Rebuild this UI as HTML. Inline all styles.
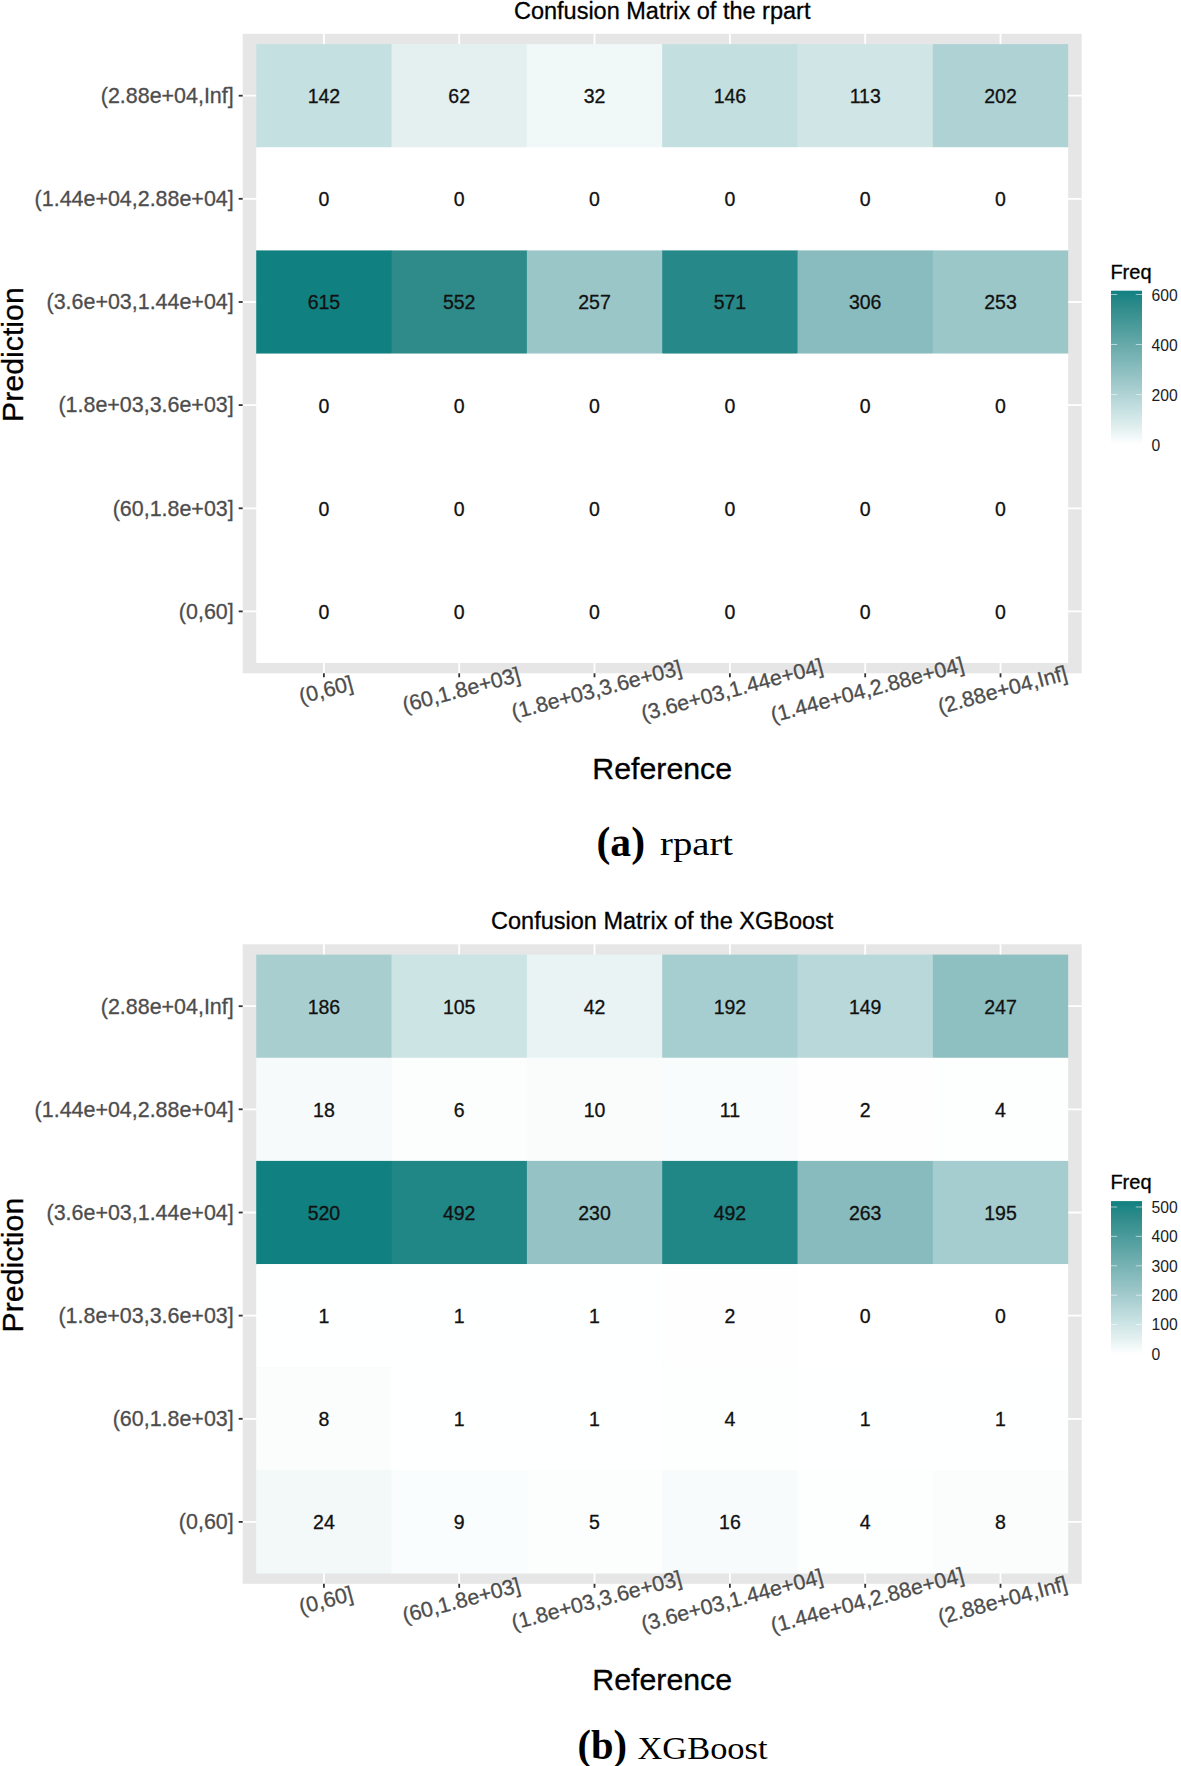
<!DOCTYPE html>
<html><head><meta charset="utf-8"><title>Confusion matrices</title>
<style>html,body{margin:0;padding:0;background:#fff}svg{display:block}text{font-family:"Liberation Sans",sans-serif;stroke-width:.3px}text[fill="#000"]{stroke:#000}text[fill="#111"]{stroke:#111}text[fill="#4d4d4d"]{stroke:#4d4d4d}text.cap{stroke:none}text.cap{font-family:"Liberation Serif",serif}</style>
</head><body>
<svg width="1181" height="1766" viewBox="0 0 1181 1766">
<rect width="1181" height="1766" fill="#fff"/>
<text x="662.2" y="18.9" text-anchor="middle" font-size="23.5" fill="#000">Confusion Matrix of the rpart</text>
<rect x="242.7" y="33.8" width="839.0" height="639.5" fill="#e6e6e6"/>
<line x1="323.9" x2="323.9" y1="33.8" y2="673.3" stroke="#fff" stroke-width="1.8"/>
<line y1="95.7" y2="95.7" x1="242.7" x2="1081.7" stroke="#fff" stroke-width="1.8"/>
<line x1="459.2" x2="459.2" y1="33.8" y2="673.3" stroke="#fff" stroke-width="1.8"/>
<line y1="198.8" y2="198.8" x1="242.7" x2="1081.7" stroke="#fff" stroke-width="1.8"/>
<line x1="594.5" x2="594.5" y1="33.8" y2="673.3" stroke="#fff" stroke-width="1.8"/>
<line y1="302.0" y2="302.0" x1="242.7" x2="1081.7" stroke="#fff" stroke-width="1.8"/>
<line x1="729.9" x2="729.9" y1="33.8" y2="673.3" stroke="#fff" stroke-width="1.8"/>
<line y1="405.1" y2="405.1" x1="242.7" x2="1081.7" stroke="#fff" stroke-width="1.8"/>
<line x1="865.2" x2="865.2" y1="33.8" y2="673.3" stroke="#fff" stroke-width="1.8"/>
<line y1="508.3" y2="508.3" x1="242.7" x2="1081.7" stroke="#fff" stroke-width="1.8"/>
<line x1="1000.5" x2="1000.5" y1="33.8" y2="673.3" stroke="#fff" stroke-width="1.8"/>
<line y1="611.4" y2="611.4" x1="242.7" x2="1081.7" stroke="#fff" stroke-width="1.8"/>
<rect x="256.23" y="44.11" width="135.92" height="103.75" fill="#c5e0e1"/>
<rect x="391.55" y="44.11" width="135.92" height="103.75" fill="#e4f0f0"/>
<rect x="526.88" y="44.11" width="135.92" height="103.75" fill="#f1f8f8"/>
<rect x="662.20" y="44.11" width="135.92" height="103.75" fill="#c4dfe0"/>
<rect x="797.52" y="44.11" width="135.92" height="103.75" fill="#d0e6e6"/>
<rect x="932.85" y="44.11" width="135.32" height="103.75" fill="#afd2d4"/>
<rect x="256.23" y="147.26" width="135.92" height="103.75" fill="#ffffff"/>
<rect x="391.55" y="147.26" width="135.92" height="103.75" fill="#ffffff"/>
<rect x="526.88" y="147.26" width="135.92" height="103.75" fill="#ffffff"/>
<rect x="662.20" y="147.26" width="135.92" height="103.75" fill="#ffffff"/>
<rect x="797.52" y="147.26" width="135.92" height="103.75" fill="#ffffff"/>
<rect x="932.85" y="147.26" width="135.32" height="103.75" fill="#ffffff"/>
<rect x="256.23" y="250.40" width="135.92" height="103.75" fill="#118081"/>
<rect x="391.55" y="250.40" width="135.92" height="103.75" fill="#2e8b8a"/>
<rect x="526.88" y="250.40" width="135.92" height="103.75" fill="#9bc6c8"/>
<rect x="662.20" y="250.40" width="135.92" height="103.75" fill="#268888"/>
<rect x="797.52" y="250.40" width="135.92" height="103.75" fill="#89bcbe"/>
<rect x="932.85" y="250.40" width="135.32" height="103.75" fill="#9cc7c9"/>
<rect x="256.23" y="353.55" width="135.92" height="103.75" fill="#ffffff"/>
<rect x="391.55" y="353.55" width="135.92" height="103.75" fill="#ffffff"/>
<rect x="526.88" y="353.55" width="135.92" height="103.75" fill="#ffffff"/>
<rect x="662.20" y="353.55" width="135.92" height="103.75" fill="#ffffff"/>
<rect x="797.52" y="353.55" width="135.92" height="103.75" fill="#ffffff"/>
<rect x="932.85" y="353.55" width="135.32" height="103.75" fill="#ffffff"/>
<rect x="256.23" y="456.70" width="135.92" height="103.75" fill="#ffffff"/>
<rect x="391.55" y="456.70" width="135.92" height="103.75" fill="#ffffff"/>
<rect x="526.88" y="456.70" width="135.92" height="103.75" fill="#ffffff"/>
<rect x="662.20" y="456.70" width="135.92" height="103.75" fill="#ffffff"/>
<rect x="797.52" y="456.70" width="135.92" height="103.75" fill="#ffffff"/>
<rect x="932.85" y="456.70" width="135.32" height="103.75" fill="#ffffff"/>
<rect x="256.23" y="559.84" width="135.92" height="103.15" fill="#ffffff"/>
<rect x="391.55" y="559.84" width="135.92" height="103.15" fill="#ffffff"/>
<rect x="526.88" y="559.84" width="135.92" height="103.15" fill="#ffffff"/>
<rect x="662.20" y="559.84" width="135.92" height="103.15" fill="#ffffff"/>
<rect x="797.52" y="559.84" width="135.92" height="103.15" fill="#ffffff"/>
<rect x="932.85" y="559.84" width="135.32" height="103.15" fill="#ffffff"/>
<text x="323.9" y="103.1" text-anchor="middle" font-size="19.5" fill="#111">142</text>
<text x="459.2" y="103.1" text-anchor="middle" font-size="19.5" fill="#111">62</text>
<text x="594.5" y="103.1" text-anchor="middle" font-size="19.5" fill="#111">32</text>
<text x="729.9" y="103.1" text-anchor="middle" font-size="19.5" fill="#111">146</text>
<text x="865.2" y="103.1" text-anchor="middle" font-size="19.5" fill="#111">113</text>
<text x="1000.5" y="103.1" text-anchor="middle" font-size="19.5" fill="#111">202</text>
<text x="323.9" y="206.2" text-anchor="middle" font-size="19.5" fill="#111">0</text>
<text x="459.2" y="206.2" text-anchor="middle" font-size="19.5" fill="#111">0</text>
<text x="594.5" y="206.2" text-anchor="middle" font-size="19.5" fill="#111">0</text>
<text x="729.9" y="206.2" text-anchor="middle" font-size="19.5" fill="#111">0</text>
<text x="865.2" y="206.2" text-anchor="middle" font-size="19.5" fill="#111">0</text>
<text x="1000.5" y="206.2" text-anchor="middle" font-size="19.5" fill="#111">0</text>
<text x="323.9" y="309.4" text-anchor="middle" font-size="19.5" fill="#111">615</text>
<text x="459.2" y="309.4" text-anchor="middle" font-size="19.5" fill="#111">552</text>
<text x="594.5" y="309.4" text-anchor="middle" font-size="19.5" fill="#111">257</text>
<text x="729.9" y="309.4" text-anchor="middle" font-size="19.5" fill="#111">571</text>
<text x="865.2" y="309.4" text-anchor="middle" font-size="19.5" fill="#111">306</text>
<text x="1000.5" y="309.4" text-anchor="middle" font-size="19.5" fill="#111">253</text>
<text x="323.9" y="412.5" text-anchor="middle" font-size="19.5" fill="#111">0</text>
<text x="459.2" y="412.5" text-anchor="middle" font-size="19.5" fill="#111">0</text>
<text x="594.5" y="412.5" text-anchor="middle" font-size="19.5" fill="#111">0</text>
<text x="729.9" y="412.5" text-anchor="middle" font-size="19.5" fill="#111">0</text>
<text x="865.2" y="412.5" text-anchor="middle" font-size="19.5" fill="#111">0</text>
<text x="1000.5" y="412.5" text-anchor="middle" font-size="19.5" fill="#111">0</text>
<text x="323.9" y="515.7" text-anchor="middle" font-size="19.5" fill="#111">0</text>
<text x="459.2" y="515.7" text-anchor="middle" font-size="19.5" fill="#111">0</text>
<text x="594.5" y="515.7" text-anchor="middle" font-size="19.5" fill="#111">0</text>
<text x="729.9" y="515.7" text-anchor="middle" font-size="19.5" fill="#111">0</text>
<text x="865.2" y="515.7" text-anchor="middle" font-size="19.5" fill="#111">0</text>
<text x="1000.5" y="515.7" text-anchor="middle" font-size="19.5" fill="#111">0</text>
<text x="323.9" y="618.8" text-anchor="middle" font-size="19.5" fill="#111">0</text>
<text x="459.2" y="618.8" text-anchor="middle" font-size="19.5" fill="#111">0</text>
<text x="594.5" y="618.8" text-anchor="middle" font-size="19.5" fill="#111">0</text>
<text x="729.9" y="618.8" text-anchor="middle" font-size="19.5" fill="#111">0</text>
<text x="865.2" y="618.8" text-anchor="middle" font-size="19.5" fill="#111">0</text>
<text x="1000.5" y="618.8" text-anchor="middle" font-size="19.5" fill="#111">0</text>
<line x1="238.7" x2="242.7" y1="95.7" y2="95.7" stroke="#333" stroke-width="1.8"/>
<text x="233.7" y="103.0" text-anchor="end" font-size="21.45" fill="#4d4d4d">(2.88e+04,Inf]</text>
<line x1="238.7" x2="242.7" y1="198.8" y2="198.8" stroke="#333" stroke-width="1.8"/>
<text x="233.7" y="206.1" text-anchor="end" font-size="21.45" fill="#4d4d4d">(1.44e+04,2.88e+04]</text>
<line x1="238.7" x2="242.7" y1="302.0" y2="302.0" stroke="#333" stroke-width="1.8"/>
<text x="233.7" y="309.3" text-anchor="end" font-size="21.45" fill="#4d4d4d">(3.6e+03,1.44e+04]</text>
<line x1="238.7" x2="242.7" y1="405.1" y2="405.1" stroke="#333" stroke-width="1.8"/>
<text x="233.7" y="412.4" text-anchor="end" font-size="21.45" fill="#4d4d4d">(1.8e+03,3.6e+03]</text>
<line x1="238.7" x2="242.7" y1="508.3" y2="508.3" stroke="#333" stroke-width="1.8"/>
<text x="233.7" y="515.6" text-anchor="end" font-size="21.45" fill="#4d4d4d">(60,1.8e+03]</text>
<line x1="238.7" x2="242.7" y1="611.4" y2="611.4" stroke="#333" stroke-width="1.8"/>
<text x="233.7" y="618.7" text-anchor="end" font-size="21.45" fill="#4d4d4d">(0,60]</text>
<line y1="673.3" y2="677.3" x1="323.9" x2="323.9" stroke="#333" stroke-width="1.8"/>
<text transform="translate(323.9,682.3) rotate(-15)" x="0" y="15" text-anchor="middle" font-size="21.45" fill="#4d4d4d">(0,60]</text>
<line y1="673.3" y2="677.3" x1="459.2" x2="459.2" stroke="#333" stroke-width="1.8"/>
<text transform="translate(459.2,682.3) rotate(-15)" x="0" y="15" text-anchor="middle" font-size="21.45" fill="#4d4d4d">(60,1.8e+03]</text>
<line y1="673.3" y2="677.3" x1="594.5" x2="594.5" stroke="#333" stroke-width="1.8"/>
<text transform="translate(594.5,682.3) rotate(-15)" x="0" y="15" text-anchor="middle" font-size="21.45" fill="#4d4d4d">(1.8e+03,3.6e+03]</text>
<line y1="673.3" y2="677.3" x1="729.9" x2="729.9" stroke="#333" stroke-width="1.8"/>
<text transform="translate(729.9,682.3) rotate(-15)" x="0" y="15" text-anchor="middle" font-size="21.45" fill="#4d4d4d">(3.6e+03,1.44e+04]</text>
<line y1="673.3" y2="677.3" x1="865.2" x2="865.2" stroke="#333" stroke-width="1.8"/>
<text transform="translate(865.2,682.3) rotate(-15)" x="0" y="15" text-anchor="middle" font-size="21.45" fill="#4d4d4d">(1.44e+04,2.88e+04]</text>
<line y1="673.3" y2="677.3" x1="1000.5" x2="1000.5" stroke="#333" stroke-width="1.8"/>
<text transform="translate(1000.5,682.3) rotate(-15)" x="0" y="15" text-anchor="middle" font-size="21.45" fill="#4d4d4d">(2.88e+04,Inf]</text>
<text x="662.2" y="779.3" text-anchor="middle" font-size="30.3" fill="#000">Reference</text>
<text transform="translate(23.0,354.6) rotate(-90)" text-anchor="middle" font-size="30.3" fill="#000">Prediction</text>
<defs><linearGradient id="g0" x1="0" y1="0" x2="0" y2="1"><stop offset="0.0000" stop-color="#118081"/><stop offset="0.0715" stop-color="#268888"/><stop offset="0.1024" stop-color="#2e8b8a"/><stop offset="0.5821" stop-color="#9bc6c8"/><stop offset="0.7691" stop-color="#c5e0e1"/><stop offset="0.8992" stop-color="#e4f0f0"/><stop offset="0.9480" stop-color="#f1f8f8"/><stop offset="1.0000" stop-color="#ffffff"/></linearGradient></defs>
<rect x="1111.0" y="290.7" width="31.0" height="153.9" fill="url(#g0)"/>
<text x="1110.4" y="278.5" font-size="20" fill="#000">Freq</text>
<line x1="1111.0" x2="1117.2" y1="444.6" y2="444.6" stroke="#fff" stroke-opacity="0.7" stroke-width="0.8"/>
<line x1="1135.8" x2="1142.0" y1="444.6" y2="444.6" stroke="#fff" stroke-opacity="0.7" stroke-width="0.8"/>
<text x="1151.6" y="451.1" font-size="15.7" fill="#1c1c1c">0</text>
<line x1="1111.0" x2="1117.2" y1="394.6" y2="394.6" stroke="#fff" stroke-opacity="0.7" stroke-width="0.8"/>
<line x1="1135.8" x2="1142.0" y1="394.6" y2="394.6" stroke="#fff" stroke-opacity="0.7" stroke-width="0.8"/>
<text x="1151.6" y="401.1" font-size="15.7" fill="#1c1c1c">200</text>
<line x1="1111.0" x2="1117.2" y1="344.5" y2="344.5" stroke="#fff" stroke-opacity="0.7" stroke-width="0.8"/>
<line x1="1135.8" x2="1142.0" y1="344.5" y2="344.5" stroke="#fff" stroke-opacity="0.7" stroke-width="0.8"/>
<text x="1151.6" y="351.0" font-size="15.7" fill="#1c1c1c">400</text>
<line x1="1111.0" x2="1117.2" y1="294.5" y2="294.5" stroke="#fff" stroke-opacity="0.7" stroke-width="0.8"/>
<line x1="1135.8" x2="1142.0" y1="294.5" y2="294.5" stroke="#fff" stroke-opacity="0.7" stroke-width="0.8"/>
<text x="1151.6" y="301.0" font-size="15.7" fill="#1c1c1c">600</text>
<text x="596.5" y="856.2" class="cap" font-size="42" fill="#000" textLength="48.5" lengthAdjust="spacingAndGlyphs" font-weight="bold">(a)</text>
<text x="660" y="855.2" class="cap" font-size="33" fill="#000" textLength="73" lengthAdjust="spacingAndGlyphs">rpart</text>
<text x="662.2" y="929.4" text-anchor="middle" font-size="23.5" fill="#000">Confusion Matrix of the XGBoost</text>
<rect x="242.7" y="944.3" width="839.0" height="639.5" fill="#e6e6e6"/>
<line x1="323.9" x2="323.9" y1="944.3" y2="1583.8" stroke="#fff" stroke-width="1.8"/>
<line y1="1006.2" y2="1006.2" x1="242.7" x2="1081.7" stroke="#fff" stroke-width="1.8"/>
<line x1="459.2" x2="459.2" y1="944.3" y2="1583.8" stroke="#fff" stroke-width="1.8"/>
<line y1="1109.3" y2="1109.3" x1="242.7" x2="1081.7" stroke="#fff" stroke-width="1.8"/>
<line x1="594.5" x2="594.5" y1="944.3" y2="1583.8" stroke="#fff" stroke-width="1.8"/>
<line y1="1212.5" y2="1212.5" x1="242.7" x2="1081.7" stroke="#fff" stroke-width="1.8"/>
<line x1="729.9" x2="729.9" y1="944.3" y2="1583.8" stroke="#fff" stroke-width="1.8"/>
<line y1="1315.6" y2="1315.6" x1="242.7" x2="1081.7" stroke="#fff" stroke-width="1.8"/>
<line x1="865.2" x2="865.2" y1="944.3" y2="1583.8" stroke="#fff" stroke-width="1.8"/>
<line y1="1418.8" y2="1418.8" x1="242.7" x2="1081.7" stroke="#fff" stroke-width="1.8"/>
<line x1="1000.5" x2="1000.5" y1="944.3" y2="1583.8" stroke="#fff" stroke-width="1.8"/>
<line y1="1521.9" y2="1521.9" x1="242.7" x2="1081.7" stroke="#fff" stroke-width="1.8"/>
<rect x="256.23" y="954.61" width="135.92" height="103.75" fill="#a9ced0"/>
<rect x="391.55" y="954.61" width="135.92" height="103.75" fill="#cce4e4"/>
<rect x="526.88" y="954.61" width="135.92" height="103.75" fill="#e9f3f3"/>
<rect x="662.20" y="954.61" width="135.92" height="103.75" fill="#a6cdcf"/>
<rect x="797.52" y="954.61" width="135.92" height="103.75" fill="#b9d8da"/>
<rect x="932.85" y="954.61" width="135.32" height="103.75" fill="#8ebfc1"/>
<rect x="256.23" y="1057.76" width="135.92" height="103.75" fill="#f6fafa"/>
<rect x="391.55" y="1057.76" width="135.92" height="103.75" fill="#fcfdfd"/>
<rect x="526.88" y="1057.76" width="135.92" height="103.75" fill="#fafcfc"/>
<rect x="662.20" y="1057.76" width="135.92" height="103.75" fill="#f9fcfc"/>
<rect x="797.52" y="1057.76" width="135.92" height="103.75" fill="#fefefe"/>
<rect x="932.85" y="1057.76" width="135.32" height="103.75" fill="#fdfefe"/>
<rect x="256.23" y="1160.90" width="135.92" height="103.75" fill="#118081"/>
<rect x="391.55" y="1160.90" width="135.92" height="103.75" fill="#218686"/>
<rect x="526.88" y="1160.90" width="135.92" height="103.75" fill="#95c3c5"/>
<rect x="662.20" y="1160.90" width="135.92" height="103.75" fill="#218686"/>
<rect x="797.52" y="1160.90" width="135.92" height="103.75" fill="#87bbbd"/>
<rect x="932.85" y="1160.90" width="135.32" height="103.75" fill="#a5ccce"/>
<rect x="256.23" y="1264.05" width="135.92" height="103.75" fill="#feffff"/>
<rect x="391.55" y="1264.05" width="135.92" height="103.75" fill="#feffff"/>
<rect x="526.88" y="1264.05" width="135.92" height="103.75" fill="#feffff"/>
<rect x="662.20" y="1264.05" width="135.92" height="103.75" fill="#fefefe"/>
<rect x="797.52" y="1264.05" width="135.92" height="103.75" fill="#ffffff"/>
<rect x="932.85" y="1264.05" width="135.32" height="103.75" fill="#ffffff"/>
<rect x="256.23" y="1367.20" width="135.92" height="103.75" fill="#fbfdfd"/>
<rect x="391.55" y="1367.20" width="135.92" height="103.75" fill="#feffff"/>
<rect x="526.88" y="1367.20" width="135.92" height="103.75" fill="#feffff"/>
<rect x="662.20" y="1367.20" width="135.92" height="103.75" fill="#fdfefe"/>
<rect x="797.52" y="1367.20" width="135.92" height="103.75" fill="#feffff"/>
<rect x="932.85" y="1367.20" width="135.32" height="103.75" fill="#feffff"/>
<rect x="256.23" y="1470.34" width="135.92" height="103.15" fill="#f3f9f9"/>
<rect x="391.55" y="1470.34" width="135.92" height="103.15" fill="#fafdfd"/>
<rect x="526.88" y="1470.34" width="135.92" height="103.15" fill="#fcfefe"/>
<rect x="662.20" y="1470.34" width="135.92" height="103.15" fill="#f7fbfb"/>
<rect x="797.52" y="1470.34" width="135.92" height="103.15" fill="#fdfefe"/>
<rect x="932.85" y="1470.34" width="135.32" height="103.15" fill="#fbfdfd"/>
<text x="323.9" y="1013.6" text-anchor="middle" font-size="19.5" fill="#111">186</text>
<text x="459.2" y="1013.6" text-anchor="middle" font-size="19.5" fill="#111">105</text>
<text x="594.5" y="1013.6" text-anchor="middle" font-size="19.5" fill="#111">42</text>
<text x="729.9" y="1013.6" text-anchor="middle" font-size="19.5" fill="#111">192</text>
<text x="865.2" y="1013.6" text-anchor="middle" font-size="19.5" fill="#111">149</text>
<text x="1000.5" y="1013.6" text-anchor="middle" font-size="19.5" fill="#111">247</text>
<text x="323.9" y="1116.7" text-anchor="middle" font-size="19.5" fill="#111">18</text>
<text x="459.2" y="1116.7" text-anchor="middle" font-size="19.5" fill="#111">6</text>
<text x="594.5" y="1116.7" text-anchor="middle" font-size="19.5" fill="#111">10</text>
<text x="729.9" y="1116.7" text-anchor="middle" font-size="19.5" fill="#111">11</text>
<text x="865.2" y="1116.7" text-anchor="middle" font-size="19.5" fill="#111">2</text>
<text x="1000.5" y="1116.7" text-anchor="middle" font-size="19.5" fill="#111">4</text>
<text x="323.9" y="1219.9" text-anchor="middle" font-size="19.5" fill="#111">520</text>
<text x="459.2" y="1219.9" text-anchor="middle" font-size="19.5" fill="#111">492</text>
<text x="594.5" y="1219.9" text-anchor="middle" font-size="19.5" fill="#111">230</text>
<text x="729.9" y="1219.9" text-anchor="middle" font-size="19.5" fill="#111">492</text>
<text x="865.2" y="1219.9" text-anchor="middle" font-size="19.5" fill="#111">263</text>
<text x="1000.5" y="1219.9" text-anchor="middle" font-size="19.5" fill="#111">195</text>
<text x="323.9" y="1323.0" text-anchor="middle" font-size="19.5" fill="#111">1</text>
<text x="459.2" y="1323.0" text-anchor="middle" font-size="19.5" fill="#111">1</text>
<text x="594.5" y="1323.0" text-anchor="middle" font-size="19.5" fill="#111">1</text>
<text x="729.9" y="1323.0" text-anchor="middle" font-size="19.5" fill="#111">2</text>
<text x="865.2" y="1323.0" text-anchor="middle" font-size="19.5" fill="#111">0</text>
<text x="1000.5" y="1323.0" text-anchor="middle" font-size="19.5" fill="#111">0</text>
<text x="323.9" y="1426.2" text-anchor="middle" font-size="19.5" fill="#111">8</text>
<text x="459.2" y="1426.2" text-anchor="middle" font-size="19.5" fill="#111">1</text>
<text x="594.5" y="1426.2" text-anchor="middle" font-size="19.5" fill="#111">1</text>
<text x="729.9" y="1426.2" text-anchor="middle" font-size="19.5" fill="#111">4</text>
<text x="865.2" y="1426.2" text-anchor="middle" font-size="19.5" fill="#111">1</text>
<text x="1000.5" y="1426.2" text-anchor="middle" font-size="19.5" fill="#111">1</text>
<text x="323.9" y="1529.3" text-anchor="middle" font-size="19.5" fill="#111">24</text>
<text x="459.2" y="1529.3" text-anchor="middle" font-size="19.5" fill="#111">9</text>
<text x="594.5" y="1529.3" text-anchor="middle" font-size="19.5" fill="#111">5</text>
<text x="729.9" y="1529.3" text-anchor="middle" font-size="19.5" fill="#111">16</text>
<text x="865.2" y="1529.3" text-anchor="middle" font-size="19.5" fill="#111">4</text>
<text x="1000.5" y="1529.3" text-anchor="middle" font-size="19.5" fill="#111">8</text>
<line x1="238.7" x2="242.7" y1="1006.2" y2="1006.2" stroke="#333" stroke-width="1.8"/>
<text x="233.7" y="1013.5" text-anchor="end" font-size="21.45" fill="#4d4d4d">(2.88e+04,Inf]</text>
<line x1="238.7" x2="242.7" y1="1109.3" y2="1109.3" stroke="#333" stroke-width="1.8"/>
<text x="233.7" y="1116.6" text-anchor="end" font-size="21.45" fill="#4d4d4d">(1.44e+04,2.88e+04]</text>
<line x1="238.7" x2="242.7" y1="1212.5" y2="1212.5" stroke="#333" stroke-width="1.8"/>
<text x="233.7" y="1219.8" text-anchor="end" font-size="21.45" fill="#4d4d4d">(3.6e+03,1.44e+04]</text>
<line x1="238.7" x2="242.7" y1="1315.6" y2="1315.6" stroke="#333" stroke-width="1.8"/>
<text x="233.7" y="1322.9" text-anchor="end" font-size="21.45" fill="#4d4d4d">(1.8e+03,3.6e+03]</text>
<line x1="238.7" x2="242.7" y1="1418.8" y2="1418.8" stroke="#333" stroke-width="1.8"/>
<text x="233.7" y="1426.1" text-anchor="end" font-size="21.45" fill="#4d4d4d">(60,1.8e+03]</text>
<line x1="238.7" x2="242.7" y1="1521.9" y2="1521.9" stroke="#333" stroke-width="1.8"/>
<text x="233.7" y="1529.2" text-anchor="end" font-size="21.45" fill="#4d4d4d">(0,60]</text>
<line y1="1583.8" y2="1587.8" x1="323.9" x2="323.9" stroke="#333" stroke-width="1.8"/>
<text transform="translate(323.9,1592.8) rotate(-15)" x="0" y="15" text-anchor="middle" font-size="21.45" fill="#4d4d4d">(0,60]</text>
<line y1="1583.8" y2="1587.8" x1="459.2" x2="459.2" stroke="#333" stroke-width="1.8"/>
<text transform="translate(459.2,1592.8) rotate(-15)" x="0" y="15" text-anchor="middle" font-size="21.45" fill="#4d4d4d">(60,1.8e+03]</text>
<line y1="1583.8" y2="1587.8" x1="594.5" x2="594.5" stroke="#333" stroke-width="1.8"/>
<text transform="translate(594.5,1592.8) rotate(-15)" x="0" y="15" text-anchor="middle" font-size="21.45" fill="#4d4d4d">(1.8e+03,3.6e+03]</text>
<line y1="1583.8" y2="1587.8" x1="729.9" x2="729.9" stroke="#333" stroke-width="1.8"/>
<text transform="translate(729.9,1592.8) rotate(-15)" x="0" y="15" text-anchor="middle" font-size="21.45" fill="#4d4d4d">(3.6e+03,1.44e+04]</text>
<line y1="1583.8" y2="1587.8" x1="865.2" x2="865.2" stroke="#333" stroke-width="1.8"/>
<text transform="translate(865.2,1592.8) rotate(-15)" x="0" y="15" text-anchor="middle" font-size="21.45" fill="#4d4d4d">(1.44e+04,2.88e+04]</text>
<line y1="1583.8" y2="1587.8" x1="1000.5" x2="1000.5" stroke="#333" stroke-width="1.8"/>
<text transform="translate(1000.5,1592.8) rotate(-15)" x="0" y="15" text-anchor="middle" font-size="21.45" fill="#4d4d4d">(2.88e+04,Inf]</text>
<text x="662.2" y="1689.8" text-anchor="middle" font-size="30.3" fill="#000">Reference</text>
<text transform="translate(23.0,1265.1) rotate(-90)" text-anchor="middle" font-size="30.3" fill="#000">Prediction</text>
<defs><linearGradient id="g910" x1="0" y1="0" x2="0" y2="1"><stop offset="0.0000" stop-color="#118081"/><stop offset="0.0715" stop-color="#268888"/><stop offset="0.1024" stop-color="#2e8b8a"/><stop offset="0.5821" stop-color="#9bc6c8"/><stop offset="0.7691" stop-color="#c5e0e1"/><stop offset="0.8992" stop-color="#e4f0f0"/><stop offset="0.9480" stop-color="#f1f8f8"/><stop offset="1.0000" stop-color="#ffffff"/></linearGradient></defs>
<rect x="1111.0" y="1201.1" width="31.0" height="152.9" fill="url(#g910)"/>
<text x="1110.4" y="1189.0" font-size="20" fill="#000">Freq</text>
<line x1="1111.0" x2="1117.2" y1="1354.0" y2="1354.0" stroke="#fff" stroke-opacity="0.7" stroke-width="0.8"/>
<line x1="1135.8" x2="1142.0" y1="1354.0" y2="1354.0" stroke="#fff" stroke-opacity="0.7" stroke-width="0.8"/>
<text x="1151.6" y="1359.8" font-size="15.7" fill="#1c1c1c">0</text>
<line x1="1111.0" x2="1117.2" y1="1324.6" y2="1324.6" stroke="#fff" stroke-opacity="0.7" stroke-width="0.8"/>
<line x1="1135.8" x2="1142.0" y1="1324.6" y2="1324.6" stroke="#fff" stroke-opacity="0.7" stroke-width="0.8"/>
<text x="1151.6" y="1330.4" font-size="15.7" fill="#1c1c1c">100</text>
<line x1="1111.0" x2="1117.2" y1="1295.2" y2="1295.2" stroke="#fff" stroke-opacity="0.7" stroke-width="0.8"/>
<line x1="1135.8" x2="1142.0" y1="1295.2" y2="1295.2" stroke="#fff" stroke-opacity="0.7" stroke-width="0.8"/>
<text x="1151.6" y="1301.0" font-size="15.7" fill="#1c1c1c">200</text>
<line x1="1111.0" x2="1117.2" y1="1265.8" y2="1265.8" stroke="#fff" stroke-opacity="0.7" stroke-width="0.8"/>
<line x1="1135.8" x2="1142.0" y1="1265.8" y2="1265.8" stroke="#fff" stroke-opacity="0.7" stroke-width="0.8"/>
<text x="1151.6" y="1271.6" font-size="15.7" fill="#1c1c1c">300</text>
<line x1="1111.0" x2="1117.2" y1="1236.4" y2="1236.4" stroke="#fff" stroke-opacity="0.7" stroke-width="0.8"/>
<line x1="1135.8" x2="1142.0" y1="1236.4" y2="1236.4" stroke="#fff" stroke-opacity="0.7" stroke-width="0.8"/>
<text x="1151.6" y="1242.2" font-size="15.7" fill="#1c1c1c">400</text>
<line x1="1111.0" x2="1117.2" y1="1207.0" y2="1207.0" stroke="#fff" stroke-opacity="0.7" stroke-width="0.8"/>
<line x1="1135.8" x2="1142.0" y1="1207.0" y2="1207.0" stroke="#fff" stroke-opacity="0.7" stroke-width="0.8"/>
<text x="1151.6" y="1212.8" font-size="15.7" fill="#1c1c1c">500</text>
<text x="577.5" y="1758.6" class="cap" font-size="42" fill="#000" textLength="49.5" lengthAdjust="spacingAndGlyphs" font-weight="bold">(b)</text>
<text x="637.5" y="1758.6" class="cap" font-size="31" fill="#000" textLength="130" lengthAdjust="spacingAndGlyphs">XGBoost</text>
</svg>
</body></html>
